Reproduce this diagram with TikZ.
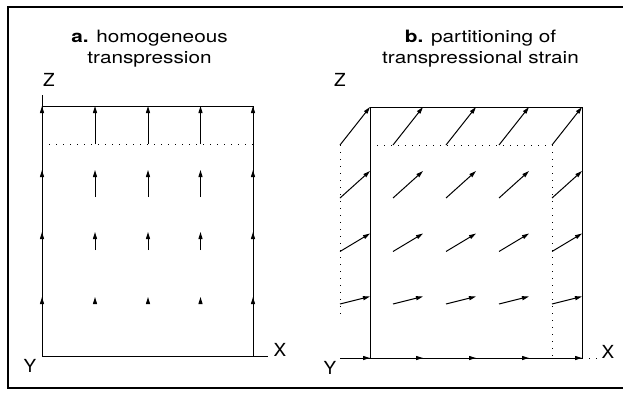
\documentclass[tikz,border=0pt]{standalone}
\usepackage{fontspec}
\newfontfamily\helvfont{TeX Gyre Heros}
\usetikzlibrary{arrows.meta}
\tikzset{
    vec/.style={-{Triangle[length=7pt,width=4pt]}, line width=1pt},
    boxline/.style={line width=0.9pt},
    guide/.style={line width=0.8pt, dash pattern=on 1pt off 6pt},
    title/.style={font=\helvfont\fontsize{17}{21}\selectfont, align=center, xscale=1.22, inner sep=0pt},
    axlabel/.style={font=\helvfont\fontsize{18}{18}\selectfont, xscale=1.05, inner sep=0pt}
}

\begin{document}
\begin{tikzpicture}[x=1pt, y=-1pt]
    \useasboundingbox (0,0) rectangle (623,400);

    % Frame
    \draw[line width=1.4pt] (623,7) -- (8,7) -- (8,388) -- (623,388);

    % Panel a: homogeneous transpression
    \node[title] (tita) at (149.5,49) {\textbf{a.} homogeneous\\transpression};
    \draw[boxline] (42,95) -- (42,356) -- (268,356);
    \draw[boxline] (42,106) -- (253,106) -- (253,356);
    \draw[guide] (42,144) -- (253,144);
    \foreach \x in {42,95,148,200.5,253}
        \foreach \t/\h in {144/106,197/170,250/232,303/297}
            \draw[vec] (\x,\t) -- (\x,\h);
    \node[axlabel] (za) at (49,80) {Z};
    \node[axlabel] (xa) at (280,350) {X};
    \node[axlabel] (ya) at (30,366) {Y};

    % Panel b: partitioning of transpressional strain
    \node[title] (titb) at (480.5,49) {\textbf{b.} partitioning of\\transpressional strain};
    \draw[boxline] (340,358) -- (582,358);
    \draw[guide] (582,358) -- (598,358);
    \draw[boxline] (370,358) -- (370,107) -- (582,107) -- (582,358);
    \draw[guide] (340,145) -- (340,318);
    \draw[guide] (370,145) -- (552,145) -- (552,358);
    \foreach \x in {340,393,446,499,552}
        \foreach \t/\d in {145/38,198/27,251.5/18,304/7.5,358/0}
            \draw[vec] (\x,\t) -- ++(30,-\d);
    \node[axlabel] (zb) at (340,80) {Z};
    \node[axlabel] (xb) at (608,352) {X};
    \node[axlabel] (yb) at (330,368) {Y};

\end{tikzpicture}
\end{document}
